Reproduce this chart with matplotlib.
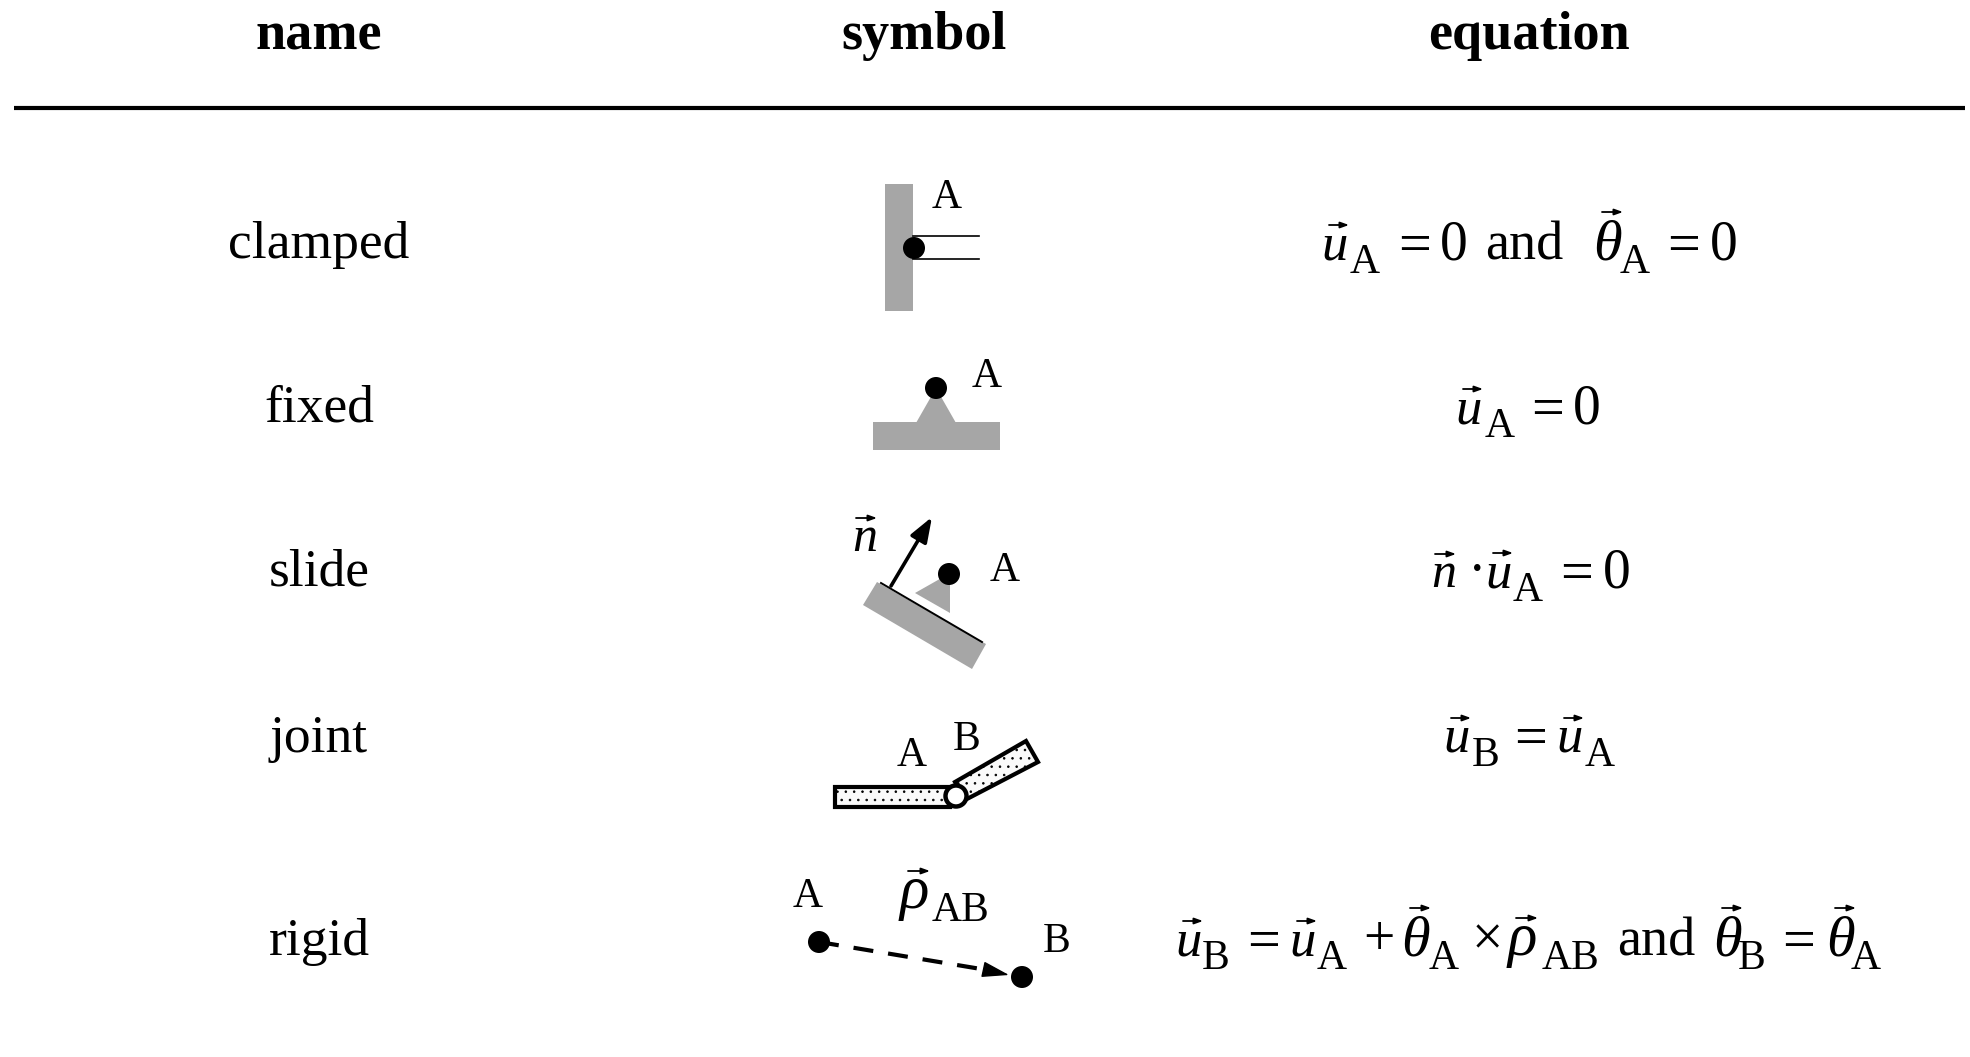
# таблица граничных условий: name / symbol / equation
import matplotlib
matplotlib.use('Agg')
import matplotlib.pyplot as plt
from matplotlib.patches import Polygon, Circle, Rectangle

plt.rcParams['font.family'] = ['Liberation Serif', 'DejaVu Serif']
plt.rcParams['hatch.linewidth'] = 0.6

headers = ['name', 'symbol', 'equation']
names = ['clamped', 'fixed', 'slide', 'joint', 'rigid']

# (вид, текст): v - вектор, s - индекс, r - обычный знак
eq_clamped = [('v', 'u'), ('s', 'A'), ('r', '='), ('r', '0'), ('r', 'and'), ('v', 'θ'), ('s', 'A'), ('r', '='), ('r', '0')]
eq_fixed = [('v', 'u'), ('s', 'A'), ('r', '='), ('r', '0')]
eq_slide = [('v', 'n'), ('r', '·'), ('v', 'u'), ('s', 'A'), ('r', '='), ('r', '0')]
eq_joint = [('v', 'u'), ('s', 'B'), ('r', '='), ('v', 'u'), ('s', 'A')]
eq_rigid = [('v', 'u'), ('s', 'B'), ('r', '='), ('v', 'u'), ('s', 'A'), ('r', '+'), ('v', 'θ'), ('s', 'A'), ('r', '×'),
            ('v', 'ρ'), ('s', 'AB'), ('r', 'and'), ('v', 'θ'), ('s', 'B'), ('r', '='), ('v', 'θ'), ('s', 'A')]
equations = [eq_clamped, eq_fixed, eq_slide, eq_joint, eq_rigid]

# размещение в пикселях картинки
eq_x = [[1321, 1350, 1398, 1440, 1485, 1593, 1620, 1667, 1710],
        [1455, 1485, 1531, 1573],
        [1431, 1468, 1485, 1513, 1560, 1603],
        [1443, 1472, 1514, 1556, 1585],
        [1175, 1202, 1247, 1289, 1317, 1363, 1401, 1429, 1472, 1508, 1542, 1617, 1713, 1738, 1782, 1826, 1851]]
row_y = [259, 423, 587, 752, 955]
name_y = [258, 421, 585, 752, 955]
col_x = [319, 924, 1529]
arrow_pos = {'u': (8, 28, -34), 'θ': (9, 30, -47), 'n': (4, 25, -33), 'ρ': (8, 30, -37)}
letter_size = {'u': 38, 'θ': 42, 'n': 36, 'ρ': 44}
sign_size = {'=': 42, 'and': 39}
sign_drop = {'=': 3}
GRAY = '#a6a6a6'

fg = plt.figure(figsize=(19.70, 10.57), dpi=100)
ax = fg.add_axes([0, 0, 1, 1])
ax.set_xlim(0, 1970)
ax.set_ylim(1057, 0)
ax.axis('off')


def small_arrow(x0, x1, y):
    ax.annotate('', xy=(x1, y), xytext=(x0, y),
                arrowprops=dict(arrowstyle='-|>,head_length=0.5,head_width=0.18', color='black',
                                lw=1.3, shrinkA=0, shrinkB=0))


def vec(x, y, letter):
    ax.text(x, y, letter, fontsize=letter_size[letter], style='italic', va='baseline', ha='left')
    a, b, dy = arrow_pos[letter]
    small_arrow(x + a, x + b, y + dy)


def label(x, y, s, size=30):
    ax.text(x, y, s, fontsize=size, va='baseline', ha='left')


def dot(x, y, r=11):
    ax.add_patch(Circle((x, y), r, fc='black', ec='none', zorder=5))


# шапка
for x, s in zip(col_x, headers):
    ax.text(x, 49, s, fontsize=39, fontweight='bold', va='baseline', ha='center')
ax.plot([14, 1965], [108, 108], color='black', lw=3, solid_capstyle='butt')

for name, y in zip(names, name_y):
    ax.text(col_x[0], y, name, fontsize=38.5, va='baseline', ha='center')

# формулы
for tokens, xs, y in zip(equations, eq_x, row_y):
    for (kind, s), x in zip(tokens, xs):
        if kind == 'v':
            vec(x, y, s)
        elif kind == 's':
            label(x, y + 14, s)
        else:
            label(x, y + sign_drop.get(s, 0), s, sign_size.get(s, 40))

# clamped
ax.add_patch(Rectangle((885, 184), 28, 127, fc=GRAY, ec='none'))
ax.plot([913, 979], [236, 236], color='black', lw=1.2)
ax.plot([913, 979], [259, 259], color='black', lw=1.2)
dot(914, 248)
label(932, 208, 'A')

# fixed
ax.add_patch(Rectangle((873, 422), 127, 28, fc=GRAY, ec='none'))
ax.add_patch(Polygon([(916, 423), (956, 423), (936, 388)], fc=GRAY, ec='none'))
dot(936, 388)
label(972, 387, 'A')

# slide
ax.add_patch(Polygon([(877, 582), (986, 644), (972, 669), (863, 605)], fc=GRAY, ec='none'))
ax.plot([881, 982], [583, 642], color='black', lw=1.4)
ax.add_patch(Polygon([(915, 593), (945, 576), (950, 576), (950, 613)], fc=GRAY, ec='none'))
dot(949, 574)
ax.annotate('', xy=(932, 517), xytext=(891, 586),
            arrowprops=dict(arrowstyle='-|>,head_length=1.5,head_width=0.55', color='black',
                            lw=2.6, shrinkA=0, shrinkB=0))
vec(852, 551, 'n')
label(990, 581, 'A')

# joint
ax.add_patch(Polygon([(955, 782), (1026, 741), (1038, 762), (965, 800)], fc='#fafafa', ec='black',
                     lw=3, hatch='..', joinstyle='miter'))
ax.add_patch(Rectangle((835, 787), 115, 20, fc='#fafafa', ec='black', lw=3, hatch='..'))
ax.add_patch(Circle((956, 796), 10.5, fc='white', ec='black', lw=3.2, zorder=5))
label(897, 766, 'A')
label(953, 750, 'B')

# rigid
ax.plot([819, 990], [942, 970.5], color='black', lw=3, dashes=(4.8, 3.6), dash_capstyle='butt')
ax.annotate('', xy=(1009, 975), xytext=(986, 970),
            arrowprops=dict(arrowstyle='-|>,head_length=1.7,head_width=0.5', color='black',
                            lw=1, shrinkA=0, shrinkB=0))
dot(819, 942)
dot(1022, 977)
label(793, 907, 'A')
label(1043, 952, 'B')
vec(900, 908, 'ρ')
label(932, 921, 'AB')

fg.savefig('out.png', dpi=100)
